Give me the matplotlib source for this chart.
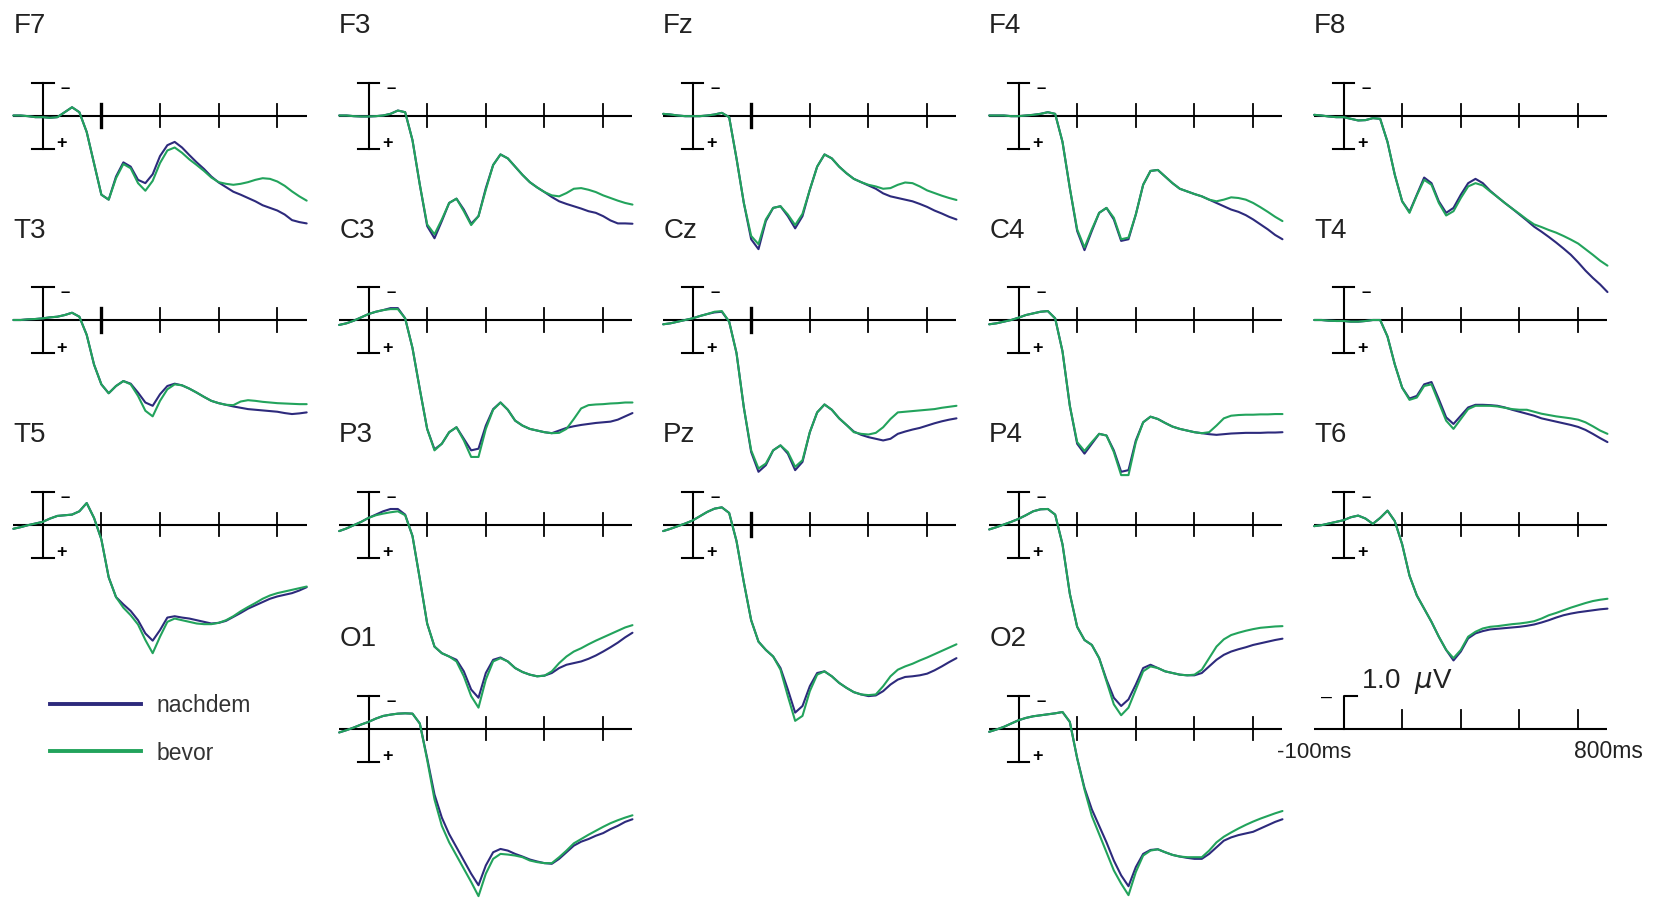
import matplotlib
matplotlib.use("Agg")
import matplotlib.pyplot as plt
from matplotlib.lines import Line2D

plt.rcParams['font.family'] = ['Liberation Sans', 'DejaVu Sans']

# ---------------- data (time in ms, amplitude in microvolt, negative up) ----------------
TIMES_MS = [-100, -75, -50, -25, 0, 25, 50, 75, 100, 125, 150, 175, 200, 225, 250, 275, 300,
            325, 350, 375, 400, 425, 450, 475, 500, 525, 550, 575, 600, 625, 650, 675, 700,
            725, 750, 775, 800, 825, 850, 875, 900]
TIME_TICKS = [200, 400, 600, 800]
SERIES_LABELS = ["nachdem", "bevor"]

F7_NACHDEM = [0.0, 0.0, 0.02, 0.05, 0.05, 0.07, 0.05, -0.1, -0.25, -0.1, 0.5, 1.45, 2.4, 2.55, 1.85, 1.42, 1.55, 1.95, 2.05, 1.78, 1.23, 0.9, 0.8, 0.97, 1.2, 1.42, 1.62, 1.85, 2.03, 2.17, 2.31, 2.4, 2.5, 2.6, 2.72, 2.8, 2.88, 3.0, 3.17, 3.23, 3.27]
F7_BEVOR = [0.0, 0.0, 0.02, 0.05, 0.05, 0.07, 0.05, -0.1, -0.25, -0.1, 0.5, 1.45, 2.4, 2.55, 1.9, 1.47, 1.6, 2.05, 2.28, 1.98, 1.44, 1.06, 0.97, 1.13, 1.33, 1.5, 1.68, 1.88, 2.02, 2.07, 2.1, 2.07, 2.02, 1.95, 1.9, 1.92, 2.0, 2.13, 2.3, 2.45, 2.58]
F3_NACHDEM = [0.0, 0.0, 0.02, 0.03, 0.03, 0.02, 0.0, -0.05, -0.15, -0.1, 0.75, 2.1, 3.35, 3.72, 3.2, 2.65, 2.52, 2.85, 3.28, 3.05, 2.2, 1.5, 1.18, 1.3, 1.55, 1.8, 2.02, 2.18, 2.32, 2.47, 2.6, 2.68, 2.75, 2.82, 2.9, 2.95, 3.05, 3.18, 3.27, 3.27, 3.28]
F3_BEVOR = [0.0, 0.0, 0.02, 0.03, 0.03, 0.02, 0.0, -0.05, -0.15, -0.1, 0.75, 2.1, 3.3, 3.6, 3.15, 2.65, 2.52, 2.9, 3.32, 3.05, 2.25, 1.5, 1.18, 1.3, 1.55, 1.8, 2.02, 2.18, 2.32, 2.42, 2.45, 2.35, 2.22, 2.2, 2.25, 2.32, 2.42, 2.5, 2.58, 2.65, 2.7]
FZ_NACHDEM = [-0.05, -0.03, 0.0, 0.02, 0.02, 0.02, 0.0, -0.03, -0.08, 0.05, 1.3, 2.65, 3.75, 4.05, 3.2, 2.8, 2.75, 3.05, 3.42, 3.05, 2.25, 1.55, 1.18, 1.3, 1.55, 1.75, 1.92, 2.02, 2.12, 2.22, 2.36, 2.45, 2.5, 2.55, 2.6, 2.68, 2.77, 2.88, 2.97, 3.07, 3.15]
FZ_BEVOR = [-0.05, -0.03, 0.0, 0.02, 0.02, 0.02, 0.0, -0.03, -0.08, 0.05, 1.3, 2.65, 3.65, 3.9, 3.15, 2.8, 2.75, 3.0, 3.32, 2.98, 2.25, 1.55, 1.18, 1.3, 1.55, 1.75, 1.92, 2.02, 2.1, 2.15, 2.22, 2.2, 2.1, 2.03, 2.05, 2.15, 2.27, 2.35, 2.43, 2.5, 2.56]
F4_NACHDEM = [0.0, 0.0, 0.0, 0.02, 0.02, 0.0, -0.02, -0.05, -0.1, -0.05, 0.8, 2.2, 3.5, 4.08, 3.5, 2.95, 2.8, 3.15, 3.8, 3.75, 3.0, 2.1, 1.68, 1.65, 1.85, 2.05, 2.22, 2.3, 2.38, 2.45, 2.55, 2.65, 2.75, 2.85, 2.92, 3.02, 3.15, 3.3, 3.45, 3.62, 3.75]
F4_BEVOR = [0.0, 0.0, 0.0, 0.02, 0.02, 0.0, -0.02, -0.05, -0.1, -0.05, 0.8, 2.2, 3.45, 4.0, 3.45, 2.95, 2.8, 3.1, 3.75, 3.7, 3.0, 2.1, 1.68, 1.65, 1.85, 2.05, 2.22, 2.3, 2.38, 2.45, 2.55, 2.6, 2.55, 2.48, 2.5, 2.55, 2.65, 2.78, 2.92, 3.07, 3.2]
F8_NACHDEM = [-0.02, 0.0, 0.03, 0.05, 0.05, 0.1, 0.15, 0.14, 0.08, 0.1, 0.8, 1.8, 2.6, 2.92, 2.4, 1.88, 2.05, 2.6, 2.95, 2.8, 2.4, 2.05, 1.92, 2.05, 2.28, 2.47, 2.65, 2.82, 3.0, 3.18, 3.37, 3.52, 3.68, 3.85, 4.03, 4.22, 4.45, 4.7, 4.92, 5.12, 5.35]
F8_BEVOR = [-0.02, 0.0, 0.03, 0.05, 0.05, 0.1, 0.15, 0.14, 0.08, 0.1, 0.8, 1.8, 2.6, 2.95, 2.42, 1.95, 2.1, 2.65, 3.03, 2.9, 2.5, 2.15, 2.05, 2.12, 2.3, 2.47, 2.65, 2.82, 2.98, 3.15, 3.3, 3.38, 3.47, 3.55, 3.65, 3.76, 3.88, 4.05, 4.22, 4.4, 4.55]

T3_NACHDEM = [0.0, 0.0, -0.02, -0.03, -0.05, -0.08, -0.1, -0.15, -0.22, -0.1, 0.45, 1.35, 1.95, 2.22, 2.0, 1.85, 1.93, 2.2, 2.5, 2.6, 2.25, 2.0, 1.93, 1.98, 2.08, 2.2, 2.33, 2.45, 2.52, 2.57, 2.62, 2.66, 2.7, 2.72, 2.74, 2.76, 2.78, 2.82, 2.85, 2.83, 2.8]
T3_BEVOR = [0.0, 0.0, -0.02, -0.03, -0.05, -0.08, -0.1, -0.15, -0.22, -0.1, 0.45, 1.35, 1.95, 2.22, 2.0, 1.85, 1.95, 2.3, 2.75, 2.92, 2.45, 2.1, 1.95, 1.98, 2.08, 2.2, 2.33, 2.45, 2.52, 2.57, 2.58, 2.47, 2.43, 2.45, 2.48, 2.5, 2.52, 2.53, 2.54, 2.55, 2.55]
C3_NACHDEM = [0.15, 0.1, 0.02, -0.08, -0.18, -0.25, -0.3, -0.36, -0.36, -0.05, 0.85, 2.1, 3.3, 3.92, 3.75, 3.4, 3.25, 3.6, 3.95, 3.9, 3.2, 2.7, 2.5, 2.72, 3.05, 3.2, 3.3, 3.35, 3.4, 3.43, 3.35, 3.27, 3.22, 3.18, 3.15, 3.12, 3.1, 3.08, 3.02, 2.92, 2.82]
C3_BEVOR = [0.15, 0.1, 0.02, -0.08, -0.18, -0.25, -0.3, -0.33, -0.33, -0.05, 0.85, 2.1, 3.3, 3.95, 3.75, 3.4, 3.25, 3.65, 4.15, 4.15, 3.3, 2.72, 2.5, 2.72, 3.05, 3.2, 3.3, 3.35, 3.4, 3.43, 3.42, 3.3, 3.0, 2.68, 2.58, 2.56, 2.55, 2.53, 2.52, 2.5, 2.5]
CZ_NACHDEM = [0.13, 0.1, 0.05, 0.0, -0.05, -0.12, -0.18, -0.23, -0.25, 0.05, 1.0, 2.65, 4.0, 4.6, 4.4, 3.95, 3.8, 4.05, 4.55, 4.3, 3.4, 2.8, 2.56, 2.72, 2.98, 3.18, 3.38, 3.48, 3.55, 3.6, 3.65, 3.6, 3.45, 3.38, 3.32, 3.27, 3.2, 3.13, 3.07, 3.02, 2.98]
CZ_BEVOR = [0.13, 0.1, 0.05, 0.0, -0.05, -0.12, -0.18, -0.25, -0.27, 0.05, 1.0, 2.65, 3.95, 4.5, 4.35, 3.95, 3.8, 4.0, 4.45, 4.25, 3.4, 2.8, 2.56, 2.72, 2.98, 3.18, 3.4, 3.45, 3.47, 3.42, 3.25, 3.0, 2.8, 2.78, 2.76, 2.74, 2.72, 2.7, 2.66, 2.63, 2.6]
C4_NACHDEM = [0.13, 0.1, 0.05, 0.0, -0.07, -0.15, -0.2, -0.25, -0.27, -0.05, 0.95, 2.6, 3.75, 4.05, 3.75, 3.45, 3.5, 3.95, 4.6, 4.55, 3.65, 3.1, 2.93, 3.0, 3.12, 3.23, 3.3, 3.35, 3.4, 3.43, 3.46, 3.48, 3.46, 3.44, 3.43, 3.42, 3.42, 3.42, 3.41, 3.41, 3.4]
C4_BEVOR = [0.13, 0.1, 0.05, 0.0, -0.07, -0.15, -0.2, -0.25, -0.27, -0.05, 0.95, 2.6, 3.7, 3.97, 3.7, 3.45, 3.5, 4.0, 4.7, 4.7, 3.7, 3.1, 2.93, 3.0, 3.12, 3.23, 3.3, 3.35, 3.4, 3.43, 3.4, 3.2, 2.98, 2.9, 2.88, 2.87, 2.87, 2.86, 2.86, 2.85, 2.85]
T4_NACHDEM = [0.0, 0.0, 0.02, 0.03, 0.03, 0.05, 0.05, 0.03, 0.0, 0.0, 0.5, 1.35, 2.05, 2.38, 2.3, 1.95, 1.88, 2.4, 2.95, 3.15, 2.9, 2.65, 2.57, 2.57, 2.58, 2.6, 2.65, 2.72, 2.78, 2.84, 2.9, 2.98, 3.03, 3.08, 3.13, 3.18, 3.24, 3.33, 3.45, 3.58, 3.7]
T4_BEVOR = [0.0, 0.0, 0.02, 0.03, 0.03, 0.05, 0.05, 0.03, 0.0, 0.0, 0.5, 1.35, 2.05, 2.42, 2.35, 2.0, 1.95, 2.5, 3.05, 3.3, 3.0, 2.7, 2.6, 2.6, 2.6, 2.62, 2.66, 2.7, 2.72, 2.72, 2.78, 2.84, 2.88, 2.92, 2.95, 2.98, 3.02, 3.1, 3.22, 3.35, 3.45]

T5_NACHDEM = [0.13, 0.08, 0.02, -0.03, -0.08, -0.18, -0.26, -0.28, -0.3, -0.4, -0.65, -0.2, 0.45, 1.6, 2.2, 2.42, 2.62, 2.9, 3.3, 3.52, 3.2, 2.82, 2.78, 2.82, 2.85, 2.9, 2.95, 3.0, 2.98, 2.92, 2.8, 2.68, 2.55, 2.45, 2.35, 2.25, 2.18, 2.13, 2.08, 2.0, 1.9]
T5_BEVOR = [0.13, 0.08, 0.02, -0.03, -0.08, -0.18, -0.26, -0.28, -0.3, -0.4, -0.65, -0.2, 0.45, 1.6, 2.2, 2.52, 2.75, 3.03, 3.5, 3.9, 3.4, 2.95, 2.85, 2.9, 2.95, 3.0, 3.02, 3.02, 2.98, 2.9, 2.78, 2.63, 2.5, 2.38, 2.25, 2.15, 2.08, 2.03, 1.98, 1.93, 1.88]
P3_NACHDEM = [0.2, 0.12, 0.02, -0.08, -0.2, -0.3, -0.4, -0.47, -0.47, -0.3, 0.35, 1.65, 3.0, 3.7, 3.9, 4.0, 4.1, 4.45, 5.0, 5.25, 4.5, 4.1, 4.03, 4.15, 4.35, 4.47, 4.55, 4.6, 4.58, 4.5, 4.35, 4.25, 4.2, 4.15, 4.07, 3.97, 3.85, 3.72, 3.58, 3.42, 3.28]
P3_BEVOR = [0.2, 0.12, 0.02, -0.08, -0.2, -0.28, -0.33, -0.37, -0.4, -0.28, 0.35, 1.65, 3.0, 3.7, 3.9, 4.0, 4.15, 4.6, 5.2, 5.55, 4.7, 4.15, 4.05, 4.15, 4.35, 4.47, 4.55, 4.6, 4.58, 4.45, 4.2, 4.0, 3.85, 3.75, 3.63, 3.52, 3.42, 3.32, 3.22, 3.12, 3.05]
PZ_NACHDEM = [0.2, 0.13, 0.05, -0.03, -0.12, -0.25, -0.38, -0.48, -0.52, -0.35, 0.5, 1.75, 2.9, 3.55, 3.8, 4.0, 4.35, 5.0, 5.7, 5.5, 4.9, 4.5, 4.45, 4.6, 4.8, 4.95, 5.08, 5.15, 5.2, 5.18, 5.05, 4.85, 4.7, 4.62, 4.6, 4.57, 4.52, 4.42, 4.3, 4.17, 4.05]
PZ_BEVOR = [0.2, 0.13, 0.05, -0.03, -0.12, -0.25, -0.38, -0.48, -0.52, -0.35, 0.5, 1.75, 2.9, 3.55, 3.8, 4.0, 4.4, 5.2, 5.95, 5.8, 5.05, 4.55, 4.45, 4.6, 4.8, 4.95, 5.08, 5.15, 5.17, 5.15, 4.9, 4.6, 4.4, 4.3, 4.22, 4.12, 4.03, 3.93, 3.83, 3.73, 3.63]
P4_NACHDEM = [0.15, 0.08, 0.0, -0.08, -0.17, -0.28, -0.4, -0.46, -0.47, -0.3, 0.6, 2.1, 3.1, 3.5, 3.65, 4.05, 4.7, 5.25, 5.5, 5.3, 4.85, 4.35, 4.25, 4.35, 4.45, 4.5, 4.55, 4.57, 4.57, 4.5, 4.3, 4.1, 3.95, 3.85, 3.78, 3.72, 3.65, 3.6, 3.55, 3.5, 3.46]
P4_BEVOR = [0.15, 0.08, 0.0, -0.08, -0.17, -0.28, -0.4, -0.46, -0.47, -0.3, 0.6, 2.1, 3.1, 3.5, 3.65, 4.05, 4.75, 5.45, 5.78, 5.55, 5.0, 4.45, 4.3, 4.35, 4.45, 4.5, 4.55, 4.57, 4.55, 4.4, 4.05, 3.7, 3.48, 3.35, 3.28, 3.22, 3.17, 3.13, 3.11, 3.09, 3.08]
T6_NACHDEM = [0.05, 0.02, -0.03, -0.08, -0.13, -0.22, -0.27, -0.18, -0.02, -0.2, -0.42, -0.1, 0.6, 1.55, 2.15, 2.55, 2.95, 3.4, 3.8, 4.12, 3.85, 3.45, 3.3, 3.23, 3.18, 3.16, 3.14, 3.12, 3.1, 3.07, 3.03, 2.97, 2.9, 2.82, 2.75, 2.7, 2.66, 2.63, 2.6, 2.57, 2.55]
T6_BEVOR = [0.05, 0.02, -0.03, -0.08, -0.13, -0.22, -0.27, -0.18, -0.02, -0.2, -0.42, -0.1, 0.6, 1.55, 2.15, 2.55, 2.95, 3.4, 3.8, 4.05, 3.8, 3.4, 3.25, 3.15, 3.1, 3.08, 3.05, 3.02, 3.0, 2.97, 2.93, 2.85, 2.75, 2.68, 2.6, 2.52, 2.45, 2.38, 2.32, 2.28, 2.25]

O1_NACHDEM = [0.12, 0.05, -0.03, -0.12, -0.2, -0.3, -0.38, -0.42, -0.45, -0.46, -0.45, -0.15, 0.9, 2.0, 2.7, 3.2, 3.6, 4.0, 4.4, 4.75, 4.15, 3.75, 3.65, 3.7, 3.8, 3.88, 3.97, 4.03, 4.08, 4.1, 3.95, 3.75, 3.55, 3.43, 3.35, 3.25, 3.17, 3.05, 2.95, 2.83, 2.75]
O1_BEVOR = [0.12, 0.05, -0.03, -0.12, -0.2, -0.3, -0.38, -0.42, -0.45, -0.46, -0.45, -0.15, 0.95, 2.15, 2.95, 3.45, 3.85, 4.25, 4.65, 5.08, 4.4, 3.95, 3.8, 3.82, 3.85, 3.9, 4.0, 4.05, 4.08, 4.08, 3.9, 3.7, 3.48, 3.35, 3.22, 3.1, 2.98, 2.87, 2.78, 2.7, 2.63]
O2_NACHDEM = [0.1, 0.03, -0.05, -0.15, -0.25, -0.32, -0.37, -0.4, -0.43, -0.46, -0.5, -0.2, 0.9, 1.8, 2.45, 2.95, 3.45, 4.0, 4.45, 4.78, 4.2, 3.8, 3.68, 3.66, 3.75, 3.83, 3.88, 3.92, 3.95, 3.95, 3.8, 3.6, 3.4, 3.3, 3.23, 3.18, 3.13, 3.03, 2.93, 2.83, 2.75]
O2_BEVOR = [0.1, 0.03, -0.05, -0.15, -0.25, -0.32, -0.37, -0.4, -0.43, -0.46, -0.5, -0.2, 0.9, 1.85, 2.65, 3.2, 3.75, 4.3, 4.7, 5.05, 4.35, 3.85, 3.7, 3.66, 3.75, 3.83, 3.88, 3.9, 3.9, 3.9, 3.7, 3.45, 3.28, 3.15, 3.03, 2.92, 2.82, 2.73, 2.65, 2.57, 2.5]

# (electrode, grid column, grid row, nachdem, bevor)
PANELS = [
    ("F7", 0, 0, F7_NACHDEM, F7_BEVOR), ("F3", 1, 0, F3_NACHDEM, F3_BEVOR),
    ("Fz", 2, 0, FZ_NACHDEM, FZ_BEVOR), ("F4", 3, 0, F4_NACHDEM, F4_BEVOR),
    ("F8", 4, 0, F8_NACHDEM, F8_BEVOR),
    ("T3", 0, 1, T3_NACHDEM, T3_BEVOR), ("C3", 1, 1, C3_NACHDEM, C3_BEVOR),
    ("Cz", 2, 1, CZ_NACHDEM, CZ_BEVOR), ("C4", 3, 1, C4_NACHDEM, C4_BEVOR),
    ("T4", 4, 1, T4_NACHDEM, T4_BEVOR),
    ("T5", 0, 2, T5_NACHDEM, T5_BEVOR), ("P3", 1, 2, P3_NACHDEM, P3_BEVOR),
    ("Pz", 2, 2, PZ_NACHDEM, PZ_BEVOR), ("P4", 3, 2, P4_NACHDEM, P4_BEVOR),
    ("T6", 4, 2, T6_NACHDEM, T6_BEVOR),
    ("O1", 1, 3, O1_NACHDEM, O1_BEVOR), ("O2", 3, 3, O2_NACHDEM, O2_BEVOR),
]

# ---------------- style / layout ----------------
NAVY = "#2d2a7c"
GREEN = "#22a35c"
W, H = 1659, 900
PX_PER_MS = 0.2933
PX_PER_UV = 33.0
BAR_X = [42.7, 368.5, 692.5, 1018.5, 1343.5]   # pixel x of the 0 ms scale bar per column
BASE_Y = [115.5, 320.0, 524.5, 728.5]          # pixel y of the baseline per row
HALF_PX = 100

fig = plt.figure(figsize=(W / 100, H / 100), dpi=100)
fig.patch.set_facecolor("white")


def make_axes(col, row):
    left = BAR_X[col] - 100 * PX_PER_MS
    top = BASE_Y[row] - HALF_PX
    ax = fig.add_axes([left / W, 1 - (top + 2 * HALF_PX) / H,
                       1000 * PX_PER_MS / W, 2 * HALF_PX / H])
    ax.set_xlim(TIMES_MS[0], TIMES_MS[-1])
    ax.set_ylim(HALF_PX / PX_PER_UV, -HALF_PX / PX_PER_UV)   # negative up
    ax.axis("off")
    return ax


for name, col, row, nach, bev in PANELS:
    ax = make_axes(col, row)
    ax.axhline(0, color="black", lw=1.5, zorder=2)
    for i, t in enumerate(TIME_TICKS):
        thick = 2.4 if (i == 0 and (col == 2 or (col == 0 and row < 2))) else 1.3
        ax.plot([t, t], [-0.35, 0.35], color="black", lw=thick, clip_on=False, zorder=2)
    ax.plot([0, 0], [-1, 1], color="black", lw=1.5, clip_on=False, zorder=2)
    for yy in (-1, 1):
        ax.plot([-37, 37], [yy, yy], color="black", lw=1.5, clip_on=False, zorder=2)
    ax.text(76, -0.82, "\u2013", fontsize=12, fontweight="bold", ha="center", va="center")
    ax.text(65, 0.86, "+", fontsize=13, fontweight="bold", ha="center", va="center")
    ax.text(-100, -2.5, name, fontsize=20, ha="left", va="baseline", color="#222222")
    ax.plot(TIMES_MS, nach, color=NAVY, lw=1.5, clip_on=False, zorder=3,
            solid_joinstyle="round", solid_capstyle="round")
    ax.plot(TIMES_MS, bev, color=GREEN, lw=1.5, clip_on=False, zorder=4,
            solid_joinstyle="round", solid_capstyle="round")

# calibration panel
cal = make_axes(4, 3)
cal.axhline(0, color="black", lw=1.5)
for t in TIME_TICKS:
    cal.plot([t, t], [0, -0.55], color="black", lw=1.3, clip_on=False)
cal.plot([0, 0, 45], [0, -1, -1], color="black", lw=1.5, clip_on=False)
cal.text(-57, -0.95, "\u2013", fontsize=14, ha="center", va="center")
cal.text(60, -1.24, r"1.0  $\mu$V", fontsize=20, ha="left", va="baseline", color="#222222")
cal.text(-100, 0.88, "-100ms", fontsize=16, ha="center", va="baseline", color="#222222")
cal.text(905, 0.88, "800ms", fontsize=16.5, ha="center", va="baseline", color="#222222")

# legend
handles = [Line2D([], [], color=NAVY, lw=2.8), Line2D([], [], color=GREEN, lw=2.8)]
fig.legend(handles, SERIES_LABELS, loc="upper left", bbox_to_anchor=(50 / W, 1 - 694 / H),
           frameon=False, fontsize=16.5, handlelength=3.95, handletextpad=0.7,
           labelspacing=1.07, borderpad=0, borderaxespad=0, labelcolor="#333333")

fig.savefig("out.png", dpi=100, facecolor="white")
